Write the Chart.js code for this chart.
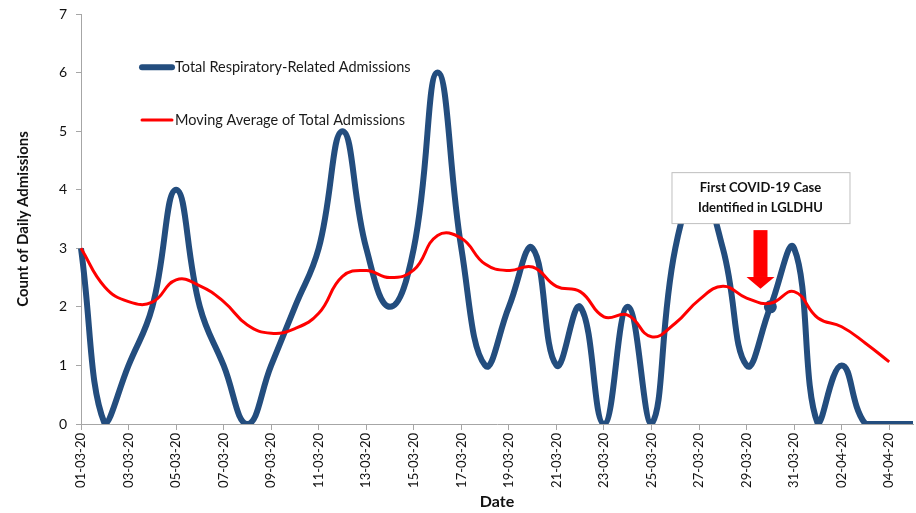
<!DOCTYPE html>
<html>
<head>
<meta charset="utf-8">
<script src="https://cdn.jsdelivr.net/npm/chart.js@4.4.1/dist/chart.umd.min.js"></script>
<style>
  html, body { margin: 0; padding: 0; background: #fff; }
  #wrap { width: 916px; height: 513px; position: relative; }
</style>
</head>
<body>
<div id="wrap"><canvas id="admChart"></canvas></div>
<script>
// dates 01-03-20 .. 05-04-20
const dates = [
  '01-03-20','02-03-20','03-03-20','04-03-20','05-03-20','06-03-20','07-03-20','08-03-20',
  '09-03-20','10-03-20','11-03-20','12-03-20','13-03-20','14-03-20','15-03-20','16-03-20',
  '17-03-20','18-03-20','19-03-20','20-03-20','21-03-20','22-03-20','23-03-20','24-03-20',
  '25-03-20','26-03-20','27-03-20','28-03-20','29-03-20','30-03-20','31-03-20','01-04-20',
  '02-04-20','03-04-20','04-04-20','05-04-20'
];
const totalAdmissions = [
  3, 0, 1, 2, 4, 2, 1, 0, 1, 2, 3, 5, 3, 2, 3, 6, 3, 1,
  2, 3, 1, 2, 0, 2, 0, 3, 4, 3, 1, 2, 3, 0, 1, 0, 0, 0
];
const movingAverage = [
  3.0, 2.34, 2.09, 2.08, 2.46, 2.36, 2.09, 1.69, 1.55, 1.63, 1.89, 2.52,
  2.62, 2.50, 2.63, 3.22, 3.17, 2.73, 2.62, 2.68, 2.35, 2.26, 1.83, 1.86,
  1.49, 1.72, 2.12, 2.35, 2.15, 2.06, 2.26, 1.81, 1.66, 1.38, 1.06, null
];
const yTicks = [0, 1, 2, 3, 4, 5, 6, 7];
const legendLabels = ['Total Respiratory-Related Admissions', 'Moving Average of Total Admissions'];
const noteLines = ['First COVID-19 Case', 'Identified in LGLDHU'];

const BLUE = '#234d7e';
const RED = '#ff0000';
const FONT = 'Lato, "Open Sans", sans-serif';

// legend + annotation drawn on the canvas
const overlayPlugin = {
  id: 'overlay',
  afterDraw(chart) {
    const ctx = chart.ctx;
    const x = chart.scales.x, y = chart.scales.y;
    ctx.save();

    // legend inside plot
    const items = [
      { color: BLUE, width: 6, label: legendLabels[0], v: 6.09 },
      { color: RED, width: 3, label: legendLabels[1], v: 5.19 }
    ];
    items.forEach(it => {
      const py = y.getPixelForValue(it.v);
      ctx.strokeStyle = it.color;
      ctx.lineWidth = it.width;
      ctx.lineCap = 'round';
      ctx.beginPath();
      ctx.moveTo(142, py);
      ctx.lineTo(172, py);
      ctx.stroke();
      ctx.fillStyle = '#1a1a1a';
      ctx.font = '14.5px ' + FONT;
      ctx.textBaseline = 'middle';
      ctx.textAlign = 'left';
      ctx.fillText(it.label, 175, py);
    });

    // note box
    const cx = x.getPixelForValue(28.5) + 2;
    const top = y.getPixelForValue(4.3), bottom = y.getPixelForValue(3.43);
    const w = 178;
    ctx.fillStyle = '#fff';
    ctx.fillRect(cx - w / 2, top, w, bottom - top);
    ctx.strokeStyle = '#bfbfbf';
    ctx.lineWidth = 1;
    ctx.strokeRect(cx - w / 2 + 0.5, top + 0.5, w, bottom - top);
    ctx.fillStyle = '#111';
    ctx.font = 'bold 13px ' + FONT;
    ctx.textAlign = 'center';
    ctx.fillText(noteLines[0], cx, top + 16);
    ctx.fillText(noteLines[1], cx, top + 36);

    // arrow
    const aTop = y.getPixelForValue(3.31), aNeck = y.getPixelForValue(2.51), aTip = y.getPixelForValue(2.31);
    ctx.fillStyle = RED;
    ctx.fillRect(cx - 7, aTop, 14, aNeck - aTop);
    ctx.beginPath();
    ctx.moveTo(cx - 14, aNeck);
    ctx.lineTo(cx + 14, aNeck);
    ctx.lineTo(cx, aTip);
    ctx.closePath();
    ctx.fill();
    ctx.restore();
  }
};

new Chart(document.getElementById('admChart'), {
  type: 'line',
  data: {
    labels: dates,
    datasets: [
      {
        label: legendLabels[1],
        data: movingAverage,
        borderColor: RED,
        borderWidth: 3,
        tension: 0.45,
        pointRadius: 0,
        fill: false
      },
      {
        label: legendLabels[0],
        data: totalAdmissions,
        borderColor: BLUE,
        backgroundColor: BLUE,
        borderWidth: 6,
        tension: 0.45,
        pointRadius: ctx => ctx.dataIndex === 29 ? 3.5 : 0,
        fill: false
      }
    ]
  },
  options: {
    responsive: true,
    maintainAspectRatio: false,
    animation: false,
    layout: { padding: { top: 14, right: 3, left: 0, bottom: 0 } },
    plugins: {
      legend: { display: false },
      tooltip: { enabled: false }
    },
    scales: {
      x: {
        grid: {
          drawOnChartArea: false,
          drawTicks: true,
          tickLength: 6,
          color: '#a6a6a6'
        },
        border: { color: '#a6a6a6' },
        ticks: {
          autoSkip: false,
          maxRotation: 90,
          minRotation: 90,
          color: '#111',
          font: { family: FONT, size: 13 },
          callback: (val, i) => i % 2 === 0 ? dates[i] : null
        },
        title: {
          display: true,
          text: 'Date',
          color: '#111',
          font: { family: FONT, size: 16, weight: 'bold' },
          padding: { top: 0, bottom: 2 }
        },
        afterFit: s => { s.height = 89; s.paddingLeft = 0; s.paddingRight = 0; }
      },
      y: {
        min: 0,
        max: 7,
        afterBuildTicks: s => { s.ticks = yTicks.map(v => ({ value: v })); },
        grid: {
          drawOnChartArea: false,
          tickLength: 5,
          color: '#a6a6a6'
        },
        border: { color: '#a6a6a6' },
        ticks: {
          color: '#111',
          padding: 9,
          font: { family: FONT, size: 14 }
        },
        title: {
          display: true,
          text: 'Count of Daily Admissions',
          color: '#111',
          font: { family: FONT, size: 15, weight: 'bold' },
          padding: { top: 14, bottom: 0 }
        },
        afterFit: s => { s.width = 81; s.paddingTop = 0; s.paddingBottom = 0; }
      }
    }
  },
  plugins: [overlayPlugin]
});
</script>
</body>
</html>
